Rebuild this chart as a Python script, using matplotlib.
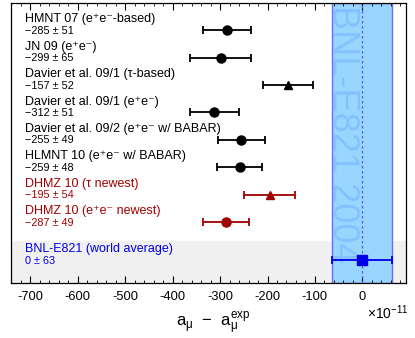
import matplotlib
matplotlib.use('Agg')
import matplotlib.pyplot as plt
from matplotlib.ticker import MultipleLocator

plt.rcParams['font.family'] = ['Liberation Sans', 'DejaVu Sans']
plt.rcParams['mathtext.fontset'] = 'custom'
plt.rcParams['mathtext.rm'] = 'Liberation Sans'
plt.rcParams['mathtext.it'] = 'Liberation Sans'

# data
names = ['HMNT 07 (e\u207ae\u207b-based)', 'JN 09 (e\u207ae\u207b)',
         'Davier et al. 09/1 (\u03c4-based)', 'Davier et al. 09/1 (e\u207ae\u207b)',
         'Davier et al. 09/2 (e\u207ae\u207b w/ BABAR)', 'HLMNT 10 (e\u207ae\u207b w/ BABAR)',
         'DHMZ 10 (\u03c4 newest)', 'DHMZ 10 (e\u207ae\u207b newest)',
         'BNL-E821 (world average)']
values = [-285, -299, -157, -312, -255, -259, -195, -287, 0]
errors = [51, 65, 52, 51, 49, 48, 54, 49, 63]
markers = ['o', 'o', '^', 'o', 'o', 'o', '^', 'o', 's']
colors = ['black'] * 6 + ['#a00000'] * 2 + ['#0000e6']
rows = [0, 1, 2, 3, 4, 5, 6, 7, 8.4]

fig = plt.figure(figsize=(4.15, 3.38), dpi=100)
ax = fig.add_axes([10.5 / 415, 1 - 283 / 338, 395 / 415, 280 / 338])

ax.set_xlim(-742, 91)
ax.set_ylim(9.23, -1)

# world average grey strip and exp band
ax.axhspan(7.7, 9.23, color='#f0f0f0', zorder=0)
e821 = errors[-1]
ax.axvspan(-e821, e821, facecolor='#99d6ff', edgecolor='#6a6aff', lw=1.0, zorder=1)
ax.axvline(0, color='#5555ff', ls=(0, (2, 2)), lw=0.9, zorder=2)
ax.text(-42, -0.93, 'BNL-E821 2004', rotation=-90, ha='center', va='top',
        fontsize=26, color='#7fbfff', alpha=0.85, zorder=2)

for i in range(len(values)):
    ax.errorbar(values[i], rows[i], xerr=errors[i], fmt=markers[i], color=colors[i],
                ms=6.5 if markers[i] != '^' else 6, capsize=3.2, elinewidth=1.3,
                capthick=1.3, zorder=4)
    ax.text(-712, rows[i] - 0.40, names[i], color=colors[i], fontsize=9,
            va='center', ha='left')
    val = '%d \u00b1 %d' % (values[i], errors[i])
    val = val.replace('-', '\u2212')
    ax.text(-712, rows[i] + 0.02, val, color=colors[i], fontsize=7.8,
            va='center', ha='left')

ax.xaxis.set_major_locator(MultipleLocator(100))
ax.xaxis.set_minor_locator(MultipleLocator(20))
ax.tick_params(axis='x', which='major', direction='in', length=5, top=True,
               labelsize=9.3, pad=6)
ax.tick_params(axis='x', which='minor', direction='in', length=2.5, top=True)
ax.set_yticks([])
ax.set_xticklabels(['%d' % t for t in ax.get_xticks()])
for s in ax.spines.values():
    s.set_linewidth(0.9)

fig.text(213 / 415, 1 - 324 / 338, 'a$_{\\mu}$  \u2212  a$_{\\mu}^{\\rm exp}$',
         ha='center', va='center', fontsize=12)
fig.text(388 / 415, 1 - 313 / 338, '\u00d710$^{\u221211}$', ha='center',
         va='center', fontsize=10)

fig.savefig('out.png', dpi=100)
